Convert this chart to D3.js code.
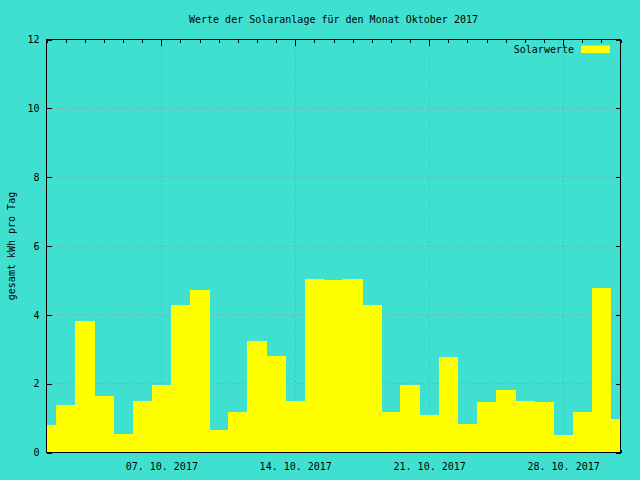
<!DOCTYPE html>
<html>
<head>
<meta charset="utf-8">
<script src="https://cdn.jsdelivr.net/npm/d3@7"></script>
<style>
  body { margin: 0; background: #40e0d0; }
  text { font-family: "DejaVu Sans Mono", "Liberation Mono", monospace; font-size: 10px; fill: #000; }
</style>
</head>
<body>
<div id="chart"></div>
<script>
// Tagesertrag Oktober 2017
var days = ["2017-10-01","2017-10-02","2017-10-03","2017-10-04","2017-10-05","2017-10-06","2017-10-07",
            "2017-10-08","2017-10-09","2017-10-10","2017-10-11","2017-10-12","2017-10-13","2017-10-14",
            "2017-10-15","2017-10-16","2017-10-17","2017-10-18","2017-10-19","2017-10-20","2017-10-21",
            "2017-10-22","2017-10-23","2017-10-24","2017-10-25","2017-10-26","2017-10-27","2017-10-28",
            "2017-10-29","2017-10-30","2017-10-31"];
var kwh = [0.81, 1.39, 3.83, 1.65, 0.55, 1.51, 1.95,
           4.30, 4.72, 0.64, 1.17, 3.23, 2.81, 1.51,
           5.04, 5.01, 5.04, 4.30, 1.17, 1.95, 1.08,
           2.78, 0.84, 1.48, 1.83, 1.51, 1.48, 0.50,
           1.19, 4.78, 0.96];
var majorTicks = ["2017-10-07","2017-10-14","2017-10-21","2017-10-28"];
var yTicks = [0, 2, 4, 6, 8, 10, 12];

var width = 640, height = 480;
var m = {top: 39.5, right: 19.5, bottom: 27.5, left: 46.5};

var parse = d3.utcParse("%Y-%m-%d");
var fmt = d3.utcFormat("%d. %m. %Y");
var data = days.map((d, i) => ({date: parse(d), value: kwh[i]}));
var majors = majorTicks.map(parse);
var minors = data.map(d => d.date).filter(d => !majors.some(t => +t == +d));

var x = d3.scaleUtc()
  .domain(d3.extent(data, d => d.date))
  .range([m.left, width - m.right]);
var y = d3.scaleLinear()
  .domain([0, 12])
  .range([height - m.bottom, m.top]);

var svg = d3.select("#chart").append("svg")
  .attr("width", width)
  .attr("height", height);

svg.append("rect")
  .attr("width", width).attr("height", height)
  .attr("fill", "#40e0d0");

svg.append("defs").append("clipPath").attr("id", "plot")
  .append("rect")
    .attr("x", m.left).attr("y", m.top)
    .attr("width", width - m.left - m.right)
    .attr("height", height - m.top - m.bottom);

// grid
var grid = svg.append("g")
  .attr("stroke", "#a8949c")
  .attr("stroke-dasharray", "2,3");
grid.selectAll(".gx").data(majors).enter().append("line")
  .attr("x1", d => Math.round(x(d)) + 0.5).attr("x2", d => Math.round(x(d)) + 0.5)
  .attr("y1", y(0)).attr("y2", y(12));
grid.selectAll(".gy").data(yTicks.slice(1, -1)).enter().append("line")
  .attr("x1", m.left).attr("x2", width - m.right)
  .attr("y1", d => y(d)).attr("y2", d => y(d));

// axes (ticks pointing inwards)
var axBottom = svg.append("g")
  .attr("transform", "translate(0," + y(0) + ")")
  .call(d3.axisBottom(x).tickValues(majors).tickFormat(fmt).tickSizeInner(-6).tickSizeOuter(0).tickPadding(10));
var axBottomMinor = svg.append("g")
  .attr("transform", "translate(0," + y(0) + ")")
  .call(d3.axisBottom(x).tickValues(minors).tickFormat("").tickSizeInner(-3).tickSizeOuter(0));
var axTop = svg.append("g")
  .attr("transform", "translate(0," + y(12) + ")")
  .call(d3.axisTop(x).tickValues(majors).tickFormat("").tickSizeInner(-6).tickSizeOuter(0));
var axTopMinor = svg.append("g")
  .attr("transform", "translate(0," + y(12) + ")")
  .call(d3.axisTop(x).tickValues(minors).tickFormat("").tickSizeInner(-3).tickSizeOuter(0));
var axLeft = svg.append("g")
  .attr("transform", "translate(" + m.left + ",0)")
  .call(d3.axisLeft(y).tickValues(yTicks).tickSizeInner(-5).tickSizeOuter(0).tickPadding(7));
var axRight = svg.append("g")
  .attr("transform", "translate(" + (width - m.right) + ",0)")
  .call(d3.axisRight(y).tickValues(yTicks).tickFormat("").tickSizeInner(-5).tickSizeOuter(0));

[axBottom, axBottomMinor, axTop, axTopMinor, axLeft, axRight].forEach(g => {
  g.select(".domain").remove();
  g.selectAll("line").attr("stroke", "#000").attr("shape-rendering", "crispEdges");
  g.attr("font-family", null).attr("font-size", null);
});
axBottom.selectAll("text").attr("dy", "0.71em");

// bars: boxes one day wide, centered on the date
var dayMs = 24 * 3600 * 1000;
svg.append("g")
  .attr("clip-path", "url(#plot)")
  .attr("shape-rendering", "crispEdges")
  .selectAll("rect")
  .data(data)
  .enter().append("rect")
    .attr("x", d => x(new Date(+d.date - dayMs / 2)))
    .attr("width", d => x(new Date(+d.date + dayMs / 2)) - x(new Date(+d.date - dayMs / 2)) + 0.5)
    .attr("y", d => y(d.value))
    .attr("height", d => y(0) - y(d.value))
    .attr("fill", "#ffff00");

// border
svg.append("rect")
  .attr("x", m.left).attr("y", m.top)
  .attr("width", width - m.left - m.right)
  .attr("height", height - m.top - m.bottom)
  .attr("fill", "none")
  .attr("stroke", "#000")
  .attr("shape-rendering", "crispEdges");

// title, axis label
svg.append("text")
  .attr("x", (m.left + width - m.right) / 2)
  .attr("y", 23)
  .attr("text-anchor", "middle")
  .text("Werte der Solaranlage für den Monat Oktober 2017");

svg.append("text")
  .attr("transform", "translate(15," + (y(6)) + ") rotate(-90)")
  .attr("text-anchor", "middle")
  .text("gesamt kWh pro Tag");

// legend
var legend = svg.append("g");
legend.append("text")
  .attr("x", 574).attr("y", 53)
  .attr("text-anchor", "end")
  .text("Solarwerte");
legend.append("rect")
  .attr("x", 581).attr("y", 45.5)
  .attr("width", 29).attr("height", 7.5)
  .attr("fill", "#ffff00");
</script>
</body>
</html>
